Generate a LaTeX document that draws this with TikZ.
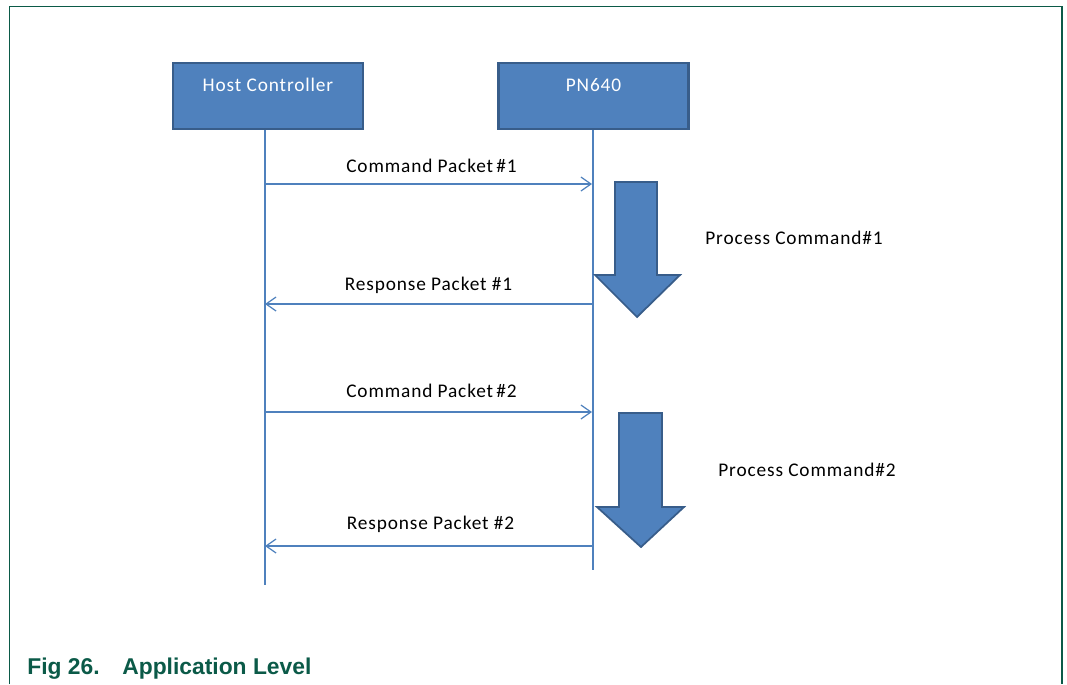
\documentclass[tikz,border=0pt]{standalone}
\usepackage{fontspec}
\usepackage{xcolor}
\usepackage{tikz}
\usetikzlibrary{positioning, arrows.meta}

\setmainfont{Carlito}
\newfontfamily\diafont[LetterSpace=4.5]{Carlito}
\newfontfamily\capfont{Liberation Sans}

\definecolor{boxblue}{HTML}{4F81BD}
\definecolor{boxedge}{HTML}{385D8A}
\definecolor{lineblue}{HTML}{4F81BD}
\definecolor{nxpgreen}{HTML}{0B5A48}

\begin{document}
\begin{tikzpicture}[
				x=0.02cm, y=-0.02cm,
				entity/.style={
					rectangle,
					draw=boxedge,
					fill=boxblue,
					line width=1.2pt,
					minimum width=3.8cm,
					inner sep=0pt,
					text height=0.56cm,
					text depth=0.76cm,
					text=white,
					font=\diafont\fontsize{11}{13}\selectfont
				},
				lifeline/.style={draw=lineblue, line width=1.2pt},
				msgarrow/.style={draw=lineblue, line width=0.7pt, -{Straight Barb[length=2mm, width=2.8mm]}},
				msg/.style={font=\diafont\fontsize{11}{13}\selectfont, inner sep=0pt},
				work/.style={fill=boxblue, draw=boxedge, line width=1pt, line join=miter}
				]
				\useasboundingbox (0,0) rectangle (1067,684);
				
				% frame round the figure
				\draw[nxpgreen, line width=0.8pt] (9.5,684) -- (9.5,6.5) -- (1062,6.5) -- (1062,684);
				
				% --- the two parties ---
				\node[entity] (host) at (268,96) {Host Controller};
				\node[entity] (pn) at (593.5,96) {PN640};
				
				% lifelines
				\coordinate (hostend) at (265,585);
				\coordinate (pnend) at (593,570);
				\draw[lifeline] (host.south -| hostend) -- (hostend);
				\draw[lifeline] (pn.south -| pnend) -- (pnend);
				
				% --- messages ---
				\coordinate (cmdA) at (265,184);  \coordinate (cmdAend) at (592,184);
				\coordinate (rspA) at (592,304);  \coordinate (rspAend) at (265,304);
				\coordinate (cmdB) at (265,412);  \coordinate (cmdBend) at (592,412);
				\coordinate (rspB) at (592,546);  \coordinate (rspBend) at (265,546);
				
				\draw[msgarrow] (cmdA) -- node[msg, midway, xshift=0.06cm, yshift=0.36cm] {Command Packet\,\#1} (cmdAend);
				\draw[msgarrow] (rspA) -- node[msg, midway, yshift=0.38cm] {Response Packet \#1} (rspAend);
				\draw[msgarrow] (cmdB) -- node[msg, midway, xshift=0.06cm, yshift=0.42cm] {Command Packet\,\#2} (cmdBend);
				\draw[msgarrow] (rspB) -- node[msg, midway, xshift=0.04cm, yshift=0.44cm] {Response Packet \#2} (rspBend);
				
				% --- processing arrows ---
				\draw[work] (615,182) -- (657,182) -- (657,275) -- (680,275) -- (637,317)
					-- (595,275) -- (615,275) -- cycle;
				\draw[work] (619,413) -- (662,413) -- (662,507) -- (684,507) -- (641,547)
					-- (597,507) -- (619,507) -- cycle;
				
				\node[msg, anchor=west] (procA) at (705,238) {Process Command\#1};
				\node[msg, anchor=west] (procB) at (718,470) {Process Command\#2};
				
				% caption
				\node[anchor=base west, inner sep=0pt, text=nxpgreen,
					font=\capfont\bfseries\fontsize{13}{15}\selectfont] (caption) at (27,674)
					{\makebox[1.9cm][l]{Fig 26.}Application Level};
				
			\end{tikzpicture}
\end{document}
